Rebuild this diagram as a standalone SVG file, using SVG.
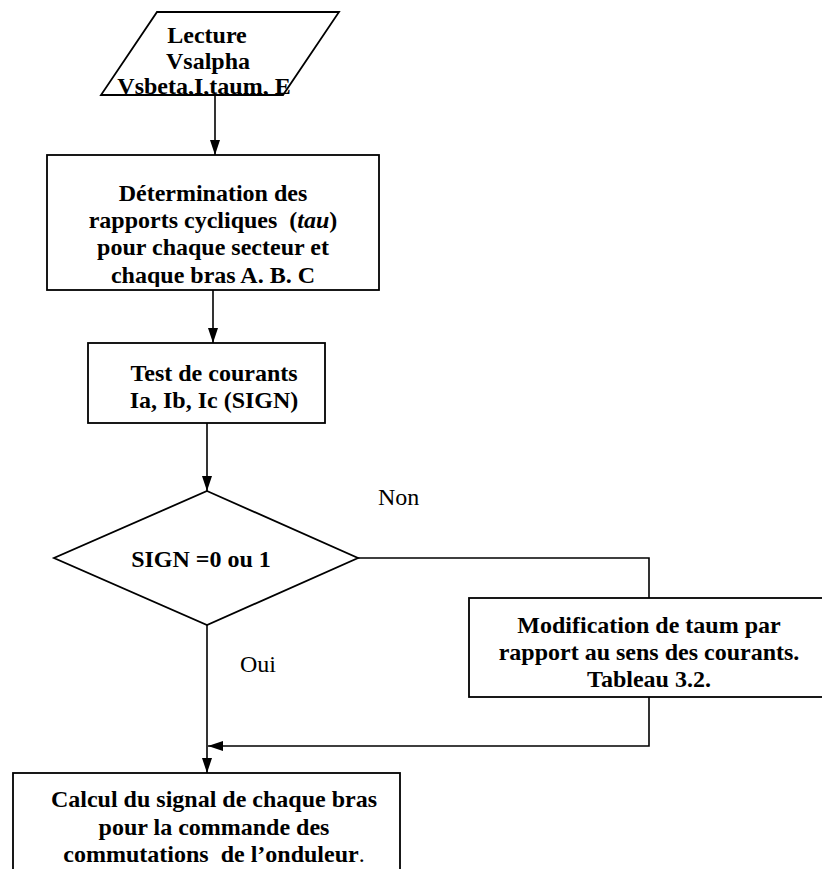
<svg xmlns="http://www.w3.org/2000/svg" width="822" height="869" viewBox="0 0 822 869">
  <style>
    .shape { fill: #fff; stroke: #000; stroke-width: 1.8; }
    .conn { fill: none; stroke: #000; stroke-width: 1.6; }
    text { font-family: "Liberation Serif", "Times New Roman", serif; font-size: 24px; fill: #000; white-space: pre; }
    .b { font-weight: bold; text-anchor: middle; }
    .lbl { font-weight: normal; }
  </style>
  <defs>
    <marker id="arrow" markerUnits="userSpaceOnUse" markerWidth="15" markerHeight="10" refX="15" refY="5" orient="auto">
      <path d="M0,0 L15,5 L0,10 z" fill="#000"/>
    </marker>
    <clipPath id="clip-read"><rect x="90" y="13" width="270" height="81"/></clipPath>
    <clipPath id="clip-det"><rect x="48" y="156" width="330" height="131"/></clipPath>
    <clipPath id="clip-test"><rect x="89" y="344" width="235" height="78"/></clipPath>
    <clipPath id="clip-mod"><rect x="470" y="599" width="360" height="97"/></clipPath>
    <clipPath id="clip-calc"><rect x="14" y="774" width="385" height="100"/></clipPath>
  </defs>

  <rect width="822" height="869" fill="#fff"/>

  <!-- input: parallelogram -->
  <g id="read">
    <polygon class="shape" points="157,12 339,12 283,95 101,95"/>
    <g clip-path="url(#clip-read)">
      <text class="b" x="207" y="43">Lecture</text>
      <text class="b" x="208" y="69">Vsalpha</text>
      <text class="b" x="204" y="94">Vsbeta,I,taum, E</text>
    </g>
  </g>

  <!-- duty cycle computation -->
  <g id="duty">
    <rect class="shape" x="47" y="155" width="332" height="135"/>
    <g clip-path="url(#clip-det)">
      <text class="b" x="213" y="201">Détermination des</text>
      <text class="b" x="213" y="228">rapports cycliques  (<tspan font-style="italic">tau</tspan>)</text>
      <text class="b" x="213" y="255">pour chaque secteur et</text>
      <text class="b" x="213" y="283">chaque bras A. B. C</text>
    </g>
  </g>

  <!-- current test -->
  <g id="test">
    <rect class="shape" x="88" y="343" width="237" height="80"/>
    <g clip-path="url(#clip-test)">
      <text class="b" x="214" y="381">Test de courants</text>
      <text class="b" x="214" y="408">Ia, Ib, Ic (SIGN)</text>
    </g>
  </g>

  <!-- decision -->
  <g id="decision">
    <polygon class="shape" points="207,491 358,558 207,625 54,558"/>
    <text class="b" x="201" y="567">SIGN =0 ou 1</text>
  </g>

  <!-- taum correction -->
  <g id="modify">
    <rect class="shape" x="469" y="598" width="360" height="99"/>
    <g clip-path="url(#clip-mod)">
      <text class="b" x="649" y="633">Modification de taum par</text>
      <text class="b" x="649" y="660">rapport au sens des courants.</text>
      <text class="b" x="649" y="687">Tableau 3.2.</text>
    </g>
  </g>

  <!-- switching signals -->
  <g id="signal">
    <rect class="shape" x="13" y="773" width="387" height="110"/>
    <g clip-path="url(#clip-calc)">
      <text class="b" x="214" y="807">Calcul du signal de chaque bras</text>
      <text class="b" x="214" y="835">pour la commande des</text>
      <text class="b" x="214" y="862">commutations  de l’onduleur<tspan font-weight="normal">.</tspan></text>
    </g>
  </g>

  <!-- branch labels -->
  <g id="labels">
    <text class="lbl" x="378" y="505">Non</text>
    <text class="lbl" x="240" y="672">Oui</text>
  </g>

  <!-- connectors -->
  <g id="connectors">
    <line class="conn" x1="215" y1="95" x2="215" y2="155" marker-end="url(#arrow)"/>
    <line class="conn" x1="213" y1="290" x2="213" y2="343" marker-end="url(#arrow)"/>
    <line class="conn" x1="207" y1="423" x2="207" y2="491" marker-end="url(#arrow)"/>
    <polyline class="conn" points="358,558 649,558 649,598"/>
    <line class="conn" x1="207" y1="625" x2="207" y2="773" marker-end="url(#arrow)"/>
    <polyline class="conn" points="649,697 649,746 208,746" marker-end="url(#arrow)"/>
  </g>
</svg>
